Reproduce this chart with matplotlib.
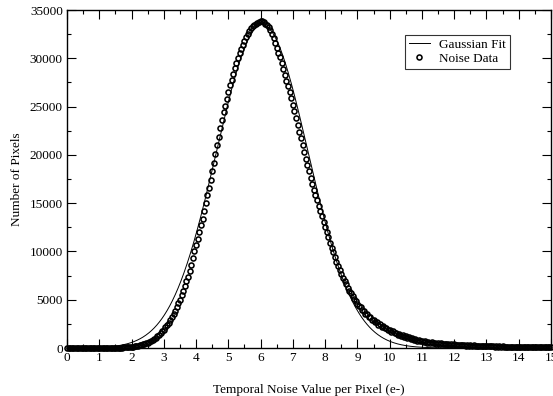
import numpy as np
import matplotlib
matplotlib.use("Agg")
import matplotlib.pyplot as plt
from matplotlib.ticker import MultipleLocator

plt.rcParams['font.family'] = ['Liberation Serif', 'DejaVu Serif']

# noise histogram, bin centres every 0.05 e- from 0 to 15
noise_x = np.round(np.arange(0, 15.001, 0.05), 2)
noise_counts = [
    0, 0, 0, 0, 0, 0, 0, 0, 0, 0, 1, 1, 1, 2, 2, 2, 3, 3, 4, 5,
    6, 7, 8, 9, 11, 13, 15, 17, 20, 23, 27, 31, 36, 42, 48, 56, 64, 74, 85, 98,
    120, 145, 170, 200, 240, 280, 325, 380, 440, 495, 550, 630, 720, 820, 930, 1050, 1200, 1360, 1530, 1710,
    1900, 2130, 2370, 2630, 2900, 3200, 3530, 3870, 4230, 4610, 5000, 5450, 5920, 6400, 6900, 7400, 8000, 8600, 9300, 10000,
    10700, 11300, 12000, 12700, 13400, 14200, 15000, 15800, 16600, 17400, 18300, 19200, 20100, 21000, 21900, 22800, 23600, 24400, 25100, 25800,
    26500, 27200, 27800, 28400, 29000, 29500, 30000, 30500, 31000, 31400, 31800, 32200, 32500, 32800, 33100, 33300, 33500, 33600, 33700, 33800,
    33850, 33900, 33800, 33600, 33400, 33200, 32900, 32500, 32100, 31600, 31100, 30600, 30100, 29500, 28900, 28300, 27700, 27100, 26500, 25850,
    25200, 24500, 23800, 23100, 22400, 21700, 21000, 20300, 19600, 18900, 18300, 17600, 17000, 16400, 15850, 15300, 14750, 14200, 13650, 13100,
    12550, 12000, 11450, 10900, 10400, 9900, 9400, 8950, 8500, 8100, 7700, 7300, 6950, 6600, 6250, 5950, 5650, 5350, 5080, 4830,
    4600, 4300, 4250, 3900, 3850, 3520, 3500, 3200, 3190, 2900, 2920, 2650, 2670, 2420, 2440, 2220, 2240, 2020, 2050, 1840,
    1880, 1680, 1720, 1530, 1580, 1390, 1450, 1270, 1330, 1150, 1220, 1040, 1110, 940, 1010, 850, 920, 770, 840, 700,
    770, 620, 700, 570, 640, 520, 590, 480, 550, 450, 510, 420, 480, 390, 450, 370, 420, 350, 400, 330,
    380, 310, 360, 290, 340, 270, 320, 255, 300, 240, 285, 228, 270, 215, 255, 205, 240, 195, 228, 185,
    215, 175, 205, 165, 195, 155, 185, 145, 175, 138, 165, 130, 155, 122, 148, 115, 140, 110, 132, 104,
    125, 98, 118, 92, 112, 86, 106, 82, 100, 77, 95, 72, 90, 68, 85, 64, 80, 60, 76, 56,
    70,
]

# gaussian fit parameters
fit_amp = 33500
fit_mean = 6.05
fit_sigma = 1.42

x_ticks = list(range(0, 16))
y_ticks = list(range(0, 35001, 5000))

fig = plt.figure(figsize=(5.53, 3.96), dpi=100)
ax = fig.add_axes([0.1212, 0.1212, 0.8752, 0.8535])

fit_x = np.linspace(0, 15, 1500)
fit_y = fit_amp * np.exp(-(fit_x - fit_mean) ** 2 / (2 * fit_sigma ** 2))
ax.plot(fit_x, fit_y, color='black', lw=0.7, label='Gaussian Fit')
ax.plot(noise_x, noise_counts, ls='none', marker='o', ms=3.6, mfc='none',
        mec='black', mew=1.15, label='Noise Data', clip_on=False)

ax.set_xlim(0, 15)
ax.set_ylim(0, 35000)
ax.set_xticks(x_ticks)
ax.set_yticks(y_ticks)
ax.xaxis.set_minor_locator(MultipleLocator(0.5))
ax.yaxis.set_minor_locator(MultipleLocator(2500))
ax.tick_params(which='both', direction='in', top=True, right=True, width=0.8,
               labelsize=9.5, pad=3)
ax.tick_params(which='major', length=6.5)
ax.tick_params(which='minor', length=3.2)
for sp in ax.spines.values():
    sp.set_linewidth(1.0)

ax.set_xlabel('Temporal Noise Value per Pixel (e-)', fontsize=9.5, labelpad=14)
ax.set_ylabel('Number of Pixels', fontsize=9.5, labelpad=5)

leg = ax.legend(loc='upper right', bbox_to_anchor=(0.915, 0.927), fontsize=9.5,
                frameon=True, fancybox=False, edgecolor='black', handlelength=1.6,
                borderpad=0.3, labelspacing=0.15, handletextpad=0.7,
                borderaxespad=0)
leg.get_frame().set_linewidth(0.8)

fig.savefig('out.png', dpi=100)
